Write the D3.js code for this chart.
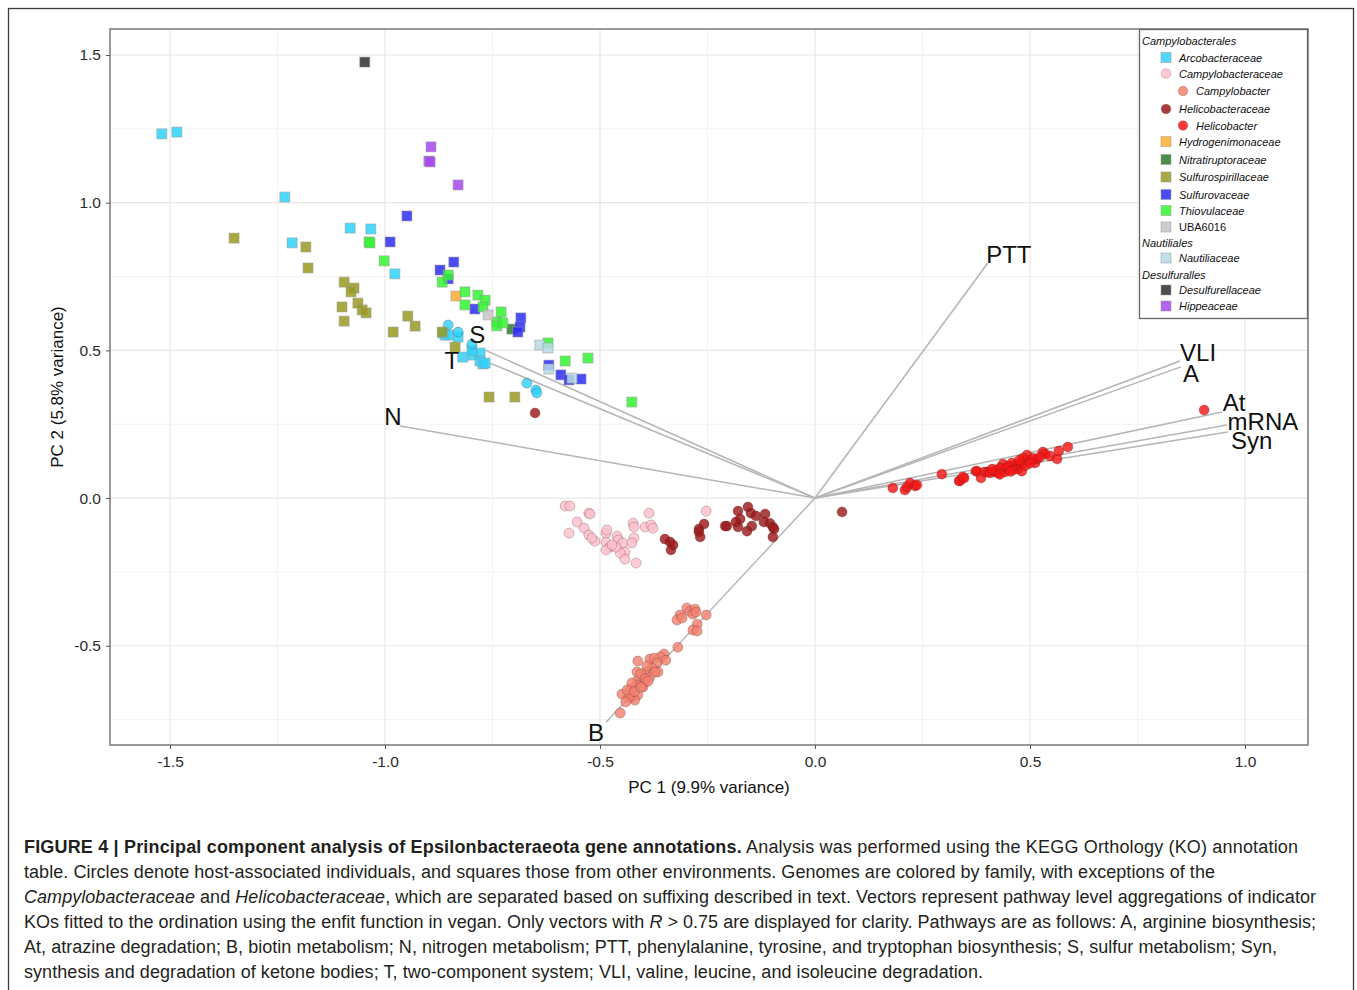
<!DOCTYPE html>
<html>
<head>
<meta charset="utf-8">
<script src="https://cdn.jsdelivr.net/npm/d3@7/dist/d3.min.js"></script>
<style>
  body { margin: 0; background: #fff; }
  svg text { font-family: "Liberation Sans", Arial, Helvetica, sans-serif; }
</style>
</head>
<body>
<div id="chart"></div>
<script>

//--------------------------------------
// DATA  (pc1, pc2, host-associated flag: 1 = circle, 0 = square)
//--------------------------------------

const familyNames = ['Arcobacteraceae', 'Campylobacteraceae', 'Campylobacter', 'Helicobacteraceae',
  'Helicobacter', 'Hydrogenimonaceae', 'Nitratiruptoraceae', 'Sulfurospirillaceae',
  'Sulfurovaceae', 'Thiovulaceae', 'UBA6016', 'Nautiliaceae', 'Desulfurellaceae', 'Hippeaceae'];

const arcobacteraceae = [
  [-1.519, 1.233, 0], [-1.484, 1.239, 0], [-1.233, 1.019, 0], [-1.216, 0.864, 0], [-1.081, 0.914, 0],
  [-1.033, 0.911, 0], [-0.977, 0.759, 0], [-0.865, 0.559, 0], [-0.860, 0.552, 0], [-0.853, 0.552, 0],
  [-0.830, 0.545, 0], [-0.819, 0.477, 0], [-0.795, 0.484, 0], [-0.779, 0.491, 0], [-0.779, 0.464, 0],
  [-0.772, 0.454, 0], [-0.767, 0.457, 0], [-0.798, 0.499, 0],
  [-0.853, 0.586, 1], [-0.830, 0.562, 1], [-0.798, 0.521, 1], [-0.670, 0.389, 1], [-0.649, 0.366, 1],
  [-0.647, 0.356, 1]
];

const campylobacteraceae = [
  [-0.581, -0.027, 1], [-0.570, -0.027, 1], [-0.526, -0.051, 1], [-0.523, -0.054, 1], [-0.553, -0.081, 1],
  [-0.572, -0.119, 1], [-0.537, -0.102, 1], [-0.526, -0.125, 1], [-0.512, -0.146, 1], [-0.519, -0.135, 1],
  [-0.486, -0.119, 1], [-0.484, -0.108, 1], [-0.486, -0.149, 1], [-0.477, -0.166, 1], [-0.486, -0.176, 1],
  [-0.460, -0.129, 1], [-0.458, -0.142, 1], [-0.447, -0.152, 1], [-0.442, -0.183, 1], [-0.453, -0.186, 1],
  [-0.442, -0.207, 1], [-0.423, -0.085, 1], [-0.421, -0.098, 1], [-0.421, -0.135, 1], [-0.426, -0.152, 1],
  [-0.416, -0.220, 1], [-0.386, -0.051, 1], [-0.395, -0.098, 1], [-0.381, -0.091, 1], [-0.377, -0.102, 1],
  [-0.253, -0.044, 1], [-0.463, -0.166, 1], [-0.472, -0.159, 1]
];

const campylobacter = [
  [-0.298, -0.372, 1], [-0.291, -0.383, 1], [-0.279, -0.376, 1], [-0.284, -0.393, 1], [-0.314, -0.396, 1],
  [-0.321, -0.413, 1], [-0.309, -0.406, 1], [-0.277, -0.386, 1], [-0.253, -0.396, 1], [-0.274, -0.427, 1],
  [-0.284, -0.447, 1], [-0.274, -0.450, 1], [-0.319, -0.505, 1], [-0.351, -0.528, 1], [-0.360, -0.538, 1],
  [-0.412, -0.552, 1], [-0.384, -0.545, 1], [-0.374, -0.542, 1], [-0.347, -0.549, 1], [-0.367, -0.559, 1],
  [-0.379, -0.576, 1], [-0.365, -0.589, 1], [-0.391, -0.589, 1], [-0.402, -0.606, 1], [-0.384, -0.606, 1],
  [-0.412, -0.616, 1], [-0.395, -0.623, 1], [-0.414, -0.633, 1], [-0.400, -0.640, 1], [-0.423, -0.643, 1],
  [-0.430, -0.650, 1], [-0.449, -0.664, 1], [-0.426, -0.674, 1], [-0.412, -0.667, 1], [-0.419, -0.684, 1],
  [-0.433, -0.674, 1], [-0.453, -0.728, 1], [-0.391, -0.569, 1], [-0.372, -0.589, 1], [-0.414, -0.589, 1],
  [-0.426, -0.626, 1], [-0.437, -0.650, 1], [-0.405, -0.595, 1], [-0.395, -0.612, 1], [-0.420, -0.655, 1],
  [-0.388, -0.620, 1], [-0.405, -0.640, 1], [-0.440, -0.690, 1]
];

const helicobacteraceae = [
  [-0.349, -0.139, 1], [-0.337, -0.149, 1], [-0.330, -0.159, 1], [-0.335, -0.176, 1], [-0.270, -0.105, 1],
  [-0.270, -0.115, 1], [-0.267, -0.132, 1], [-0.258, -0.088, 1], [-0.209, -0.095, 1], [-0.205, -0.095, 1],
  [-0.179, -0.044, 1], [-0.174, -0.071, 1], [-0.184, -0.081, 1], [-0.179, -0.098, 1], [-0.158, -0.112, 1],
  [-0.147, -0.095, 1], [-0.156, -0.030, 1], [-0.149, -0.051, 1], [-0.137, -0.061, 1], [-0.116, -0.054, 1],
  [-0.119, -0.081, 1], [-0.105, -0.085, 1], [-0.098, -0.098, 1], [-0.095, -0.105, 1], [-0.098, -0.132, 1],
  [0.063, -0.047, 1], [-0.651, 0.288, 1]
];

const helicobacter = [
  [0.181, 0.034, 1], [0.209, 0.027, 1], [0.214, 0.037, 1], [0.221, 0.051, 1], [0.233, 0.041, 1],
  [0.237, 0.044, 1], [0.295, 0.081, 1], [0.335, 0.058, 1], [0.347, 0.068, 1], [0.374, 0.091, 1],
  [0.386, 0.068, 1], [0.337, 0.058, 1], [0.344, 0.071, 1], [0.377, 0.091, 1], [0.395, 0.088, 1],
  [0.402, 0.088, 1], [0.407, 0.085, 1], [0.419, 0.088, 1], [0.426, 0.085, 1], [0.423, 0.095, 1],
  [0.437, 0.115, 1], [0.444, 0.102, 1], [0.453, 0.102, 1], [0.465, 0.112, 1], [0.470, 0.108, 1],
  [0.477, 0.119, 1], [0.488, 0.122, 1], [0.493, 0.146, 1], [0.500, 0.129, 1], [0.512, 0.119, 1],
  [0.516, 0.132, 1], [0.507, 0.135, 1], [0.530, 0.156, 1], [0.535, 0.149, 1], [0.547, 0.142, 1],
  [0.563, 0.132, 1], [0.567, 0.159, 1], [0.588, 0.173, 1], [0.442, 0.088, 1], [0.430, 0.102, 1],
  [0.458, 0.119, 1], [0.484, 0.135, 1], [0.412, 0.098, 1], [0.449, 0.108, 1], [0.472, 0.098, 1],
  [0.523, 0.139, 1], [0.481, 0.091, 1], [0.460, 0.095, 1], [0.490, 0.110, 1], [0.500, 0.118, 1],
  [0.475, 0.128, 1], [0.455, 0.090, 1], [0.430, 0.080, 1], [0.905, 0.298, 1]
];

const hydrogenimonaceae = [[-0.835, 0.684, 0]];

const nitratiruptoraceae = [[-0.705, 0.572, 0]];

const sulfurospirillaceae = [
  [-1.351, 0.880, 0], [-1.184, 0.850, 0], [-1.179, 0.779, 0], [-1.095, 0.731, 0], [-1.072, 0.711, 0],
  [-1.079, 0.698, 0], [-1.100, 0.647, 0], [-1.063, 0.660, 0], [-1.053, 0.637, 0], [-1.044, 0.627, 0],
  [-1.095, 0.599, 0], [-0.947, 0.616, 0], [-0.930, 0.582, 0], [-0.981, 0.562, 0], [-0.867, 0.562, 0],
  [-0.837, 0.511, 0], [-0.758, 0.342, 0], [-0.698, 0.342, 0]
];

const sulfurovaceae = [
  [-0.949, 0.955, 0], [-0.988, 0.867, 0], [-0.840, 0.799, 0], [-0.872, 0.772, 0], [-0.853, 0.742, 0],
  [-0.791, 0.640, 0], [-0.684, 0.610, 0], [-0.686, 0.579, 0], [-0.691, 0.562, 0], [-0.591, 0.417, 0],
  [-0.572, 0.400, 0], [-0.544, 0.403, 0], [-0.619, 0.450, 0]
];

const thiovulaceae = [
  [-1.037, 0.867, 0], [-1.035, 0.864, 0], [-1.002, 0.803, 0], [-0.867, 0.731, 0], [-0.853, 0.755, 0],
  [-0.814, 0.698, 0], [-0.814, 0.654, 0], [-0.784, 0.687, 0], [-0.767, 0.670, 0], [-0.772, 0.647, 0],
  [-0.730, 0.630, 0], [-0.740, 0.596, 0], [-0.740, 0.583, 0], [-0.726, 0.593, 0], [-0.621, 0.525, 0],
  [-0.581, 0.464, 0], [-0.528, 0.474, 0], [-0.426, 0.325, 0]
];

const uba6016 = [[-0.760, 0.620, 0]];

const nautiliaceae = [[-0.640, 0.518, 0], [-0.621, 0.508, 0], [-0.619, 0.437, 0], [-0.565, 0.406, 0]];

const desulfurellaceae = [[-1.047, 1.476, 0]];

const hippeaceae = [[-0.893, 1.189, 0], [-0.898, 1.141, 0], [-0.895, 1.138, 0], [-0.830, 1.060, 0]];

// fitted pathway vectors
const vectorNames = ['PTT', 'VLI', 'A', 'At', 'mRNA', 'Syn', 'B', 'N', 'S', 'T'];
const vectorPC1 = [0.402, 0.849, 0.851, 0.947, 0.958, 0.960, -0.486, -0.965, -0.767, -0.756];
const vectorPC2 = [0.796, 0.464, 0.444, 0.291, 0.247, 0.224, -0.759, 0.244, 0.501, 0.457];

const xMajorTicks = [-1.5, -1.0, -0.5, 0.0, 0.5, 1.0];
const yMajorTicks = [-0.5, 0.0, 0.5, 1.0, 1.5];
const xMinorTicks = [-1.25, -0.75, -0.25, 0.25, 0.75];
const yMinorTicks = [-0.75, -0.25, 0.25, 0.75, 1.25];


//--------------------------------------
// STYLE
//--------------------------------------

const familyPoints = [arcobacteraceae, campylobacteraceae, campylobacter, helicobacteraceae, helicobacter,
  hydrogenimonaceae, nitratiruptoraceae, sulfurospirillaceae, sulfurovaceae, thiovulaceae, uba6016,
  nautiliaceae, desulfurellaceae, hippeaceae];

const familyColours = ['#2fd2fb', '#ffc0cb', '#f3816f', '#9c1a1a', '#f51616', '#ffad2e', '#2b7a2b',
  '#999a22', '#2d2df5', '#33f533', '#c6c6c6', '#b7dbe6', '#2f2f2f', '#a648f0'];

// label offsets in px from the vector tip
const labelOffsets = {
  PTT: [21, -8], VLI: [18, -9], A: [10, 7], At: [12, -10], mRNA: [36, -4], Syn: [24, 9],
  B: [-10, 10], N: [-7, -9], S: [-8, -16], T: [-38, -3]
};

const fontFamily = '"Liberation Sans", Arial, Helvetica, sans-serif';


//--------------------------------------
// SVG
//--------------------------------------

const svg = d3.select('#chart').append('svg')
  .attr('width', 1357)
  .attr('height', 990);

svg.append('rect')
  .attr('x', 8.5).attr('y', 8.5)
  .attr('width', 1345).attr('height', 1000)
  .attr('fill', '#fff')
  .attr('stroke', '#3a3a3a')
  .attr('stroke-width', 1.3);

const panel = { left: 110, right: 1308, top: 29, bottom: 745 };

const x = d3.scaleLinear().domain([-1.6395, 1.1465]).range([panel.left, panel.right]);
const y = d3.scaleLinear().domain([-0.836, 1.588]).range([panel.bottom, panel.top]);


// grid
const grid = svg.append('g');

grid.selectAll('.vminor').data(xMinorTicks).enter().append('line')
  .attr('x1', d => x(d)).attr('x2', d => x(d))
  .attr('y1', panel.top).attr('y2', panel.bottom)
  .attr('stroke', '#f2f2f2').attr('stroke-width', 1);

grid.selectAll('.hminor').data(yMinorTicks).enter().append('line')
  .attr('y1', d => y(d)).attr('y2', d => y(d))
  .attr('x1', panel.left).attr('x2', panel.right)
  .attr('stroke', '#f2f2f2').attr('stroke-width', 1);

grid.selectAll('.vmajor').data(xMajorTicks).enter().append('line')
  .attr('x1', d => x(d)).attr('x2', d => x(d))
  .attr('y1', panel.top).attr('y2', panel.bottom)
  .attr('stroke', '#e8e8e8').attr('stroke-width', 1.2);

grid.selectAll('.hmajor').data(yMajorTicks).enter().append('line')
  .attr('y1', d => y(d)).attr('y2', d => y(d))
  .attr('x1', panel.left).attr('x2', panel.right)
  .attr('stroke', '#e8e8e8').attr('stroke-width', 1.2);


// vectors, under the points
const vectors = vectorNames.map((n, i) => ({ name: n, pc1: vectorPC1[i], pc2: vectorPC2[i] }));

svg.append('g').selectAll('line')
  .data(vectors)
  .enter()
  .append('line')
  .attr('x1', x(0)).attr('y1', y(0))
  .attr('x2', d => x(d.pc1)).attr('y2', d => y(d.pc2))
  .attr('stroke', '#b5b5b5')
  .attr('stroke-width', 1.5);


// points
const pointsLayer = svg.append('g');

familyPoints.forEach(function (pts, fi) {

  let g = pointsLayer.append('g');

  g.selectAll('rect')
    .data(pts.filter(p => p[2] === 0))
    .enter()
    .append('rect')
    .attr('x', d => x(d[0]) - 5)
    .attr('y', d => y(d[1]) - 5)
    .attr('width', 10).attr('height', 10)
    .attr('fill', familyColours[fi])
    .attr('fill-opacity', 0.85)
    .attr('stroke', '#9a9a9a')
    .attr('stroke-opacity', 0.5)
    .attr('stroke-width', 1);

  g.selectAll('circle')
    .data(pts.filter(p => p[2] === 1))
    .enter()
    .append('circle')
    .attr('cx', d => x(d[0]))
    .attr('cy', d => y(d[1]))
    .attr('r', 5)
    .attr('fill', familyColours[fi])
    .attr('fill-opacity', 0.82)
    .attr('stroke', '#3a1a1a')
    .attr('stroke-opacity', 0.35)
    .attr('stroke-width', 0.7);

});


// vector labels
svg.append('g').selectAll('text')
  .data(vectors)
  .enter()
  .append('text')
  .attr('x', d => x(d.pc1) + labelOffsets[d.name][0])
  .attr('y', d => y(d.pc2) + labelOffsets[d.name][1])
  .attr('text-anchor', 'middle')
  .attr('dominant-baseline', 'central')
  .attr('font-size', 24)
  .attr('fill', '#111')
  .text(d => d.name);


// panel border
svg.append('rect')
  .attr('x', panel.left).attr('y', panel.top)
  .attr('width', panel.right - panel.left)
  .attr('height', panel.bottom - panel.top)
  .attr('fill', 'none')
  .attr('stroke', '#808080')
  .attr('stroke-width', 1.6);


// axes
const fmt = d => d.toFixed(1);

const xAxis = svg.append('g')
  .attr('transform', 'translate(0,' + panel.bottom + ')')
  .call(d3.axisBottom(x).tickValues(xMajorTicks).tickFormat(fmt).tickSize(4).tickPadding(7));

const yAxis = svg.append('g')
  .attr('transform', 'translate(' + panel.left + ',0)')
  .call(d3.axisLeft(y).tickValues(yMajorTicks).tickFormat(fmt).tickSize(4).tickPadding(5));

[xAxis, yAxis].forEach(function (a) {
  a.select('.domain').remove();
  a.selectAll('line').attr('stroke', '#555');
  a.selectAll('text')
    .attr('font-family', fontFamily)
    .attr('font-size', 15.5)
    .attr('fill', '#2a2a2a');
});

svg.append('text')
  .attr('x', (panel.left + panel.right) / 2)
  .attr('y', 793)
  .attr('text-anchor', 'middle')
  .attr('font-size', 17)
  .attr('fill', '#111')
  .text('PC 1 (9.9% variance)');

svg.append('text')
  .attr('transform', 'translate(63,' + ((panel.top + panel.bottom) / 2) + ') rotate(-90)')
  .attr('text-anchor', 'middle')
  .attr('font-size', 17)
  .attr('fill', '#111')
  .text('PC 2 (5.8% variance)');


//--------------------------------------
// LEGEND
//--------------------------------------

const legendRows = [
  { label: 'Campylobacterales', header: true },
  { fam: 0 }, { fam: 1 }, { fam: 2, indent: true }, { fam: 3 }, { fam: 4, indent: true },
  { fam: 5 }, { fam: 6 }, { fam: 7 }, { fam: 8 }, { fam: 9 }, { fam: 10, plain: true },
  { label: 'Nautiliales', header: true },
  { fam: 11 },
  { label: 'Desulfuralles', header: true },
  { fam: 12 }, { fam: 13 }
];
const legendY = [40.5, 57.5, 73.5, 91, 109, 125.5, 141.5, 159.5, 177, 194.5, 210.5, 227, 242.5, 258, 274.5, 290, 306];
const circleFams = [1, 2, 3, 4];

const legend = svg.append('g');

legend.append('rect')
  .attr('x', 1139.5).attr('y', 29.5)
  .attr('width', 168).attr('height', 289)
  .attr('fill', '#fff')
  .attr('stroke', '#666')
  .attr('stroke-width', 1.3);

legendRows.forEach(function (row, i) {

  let cy = legendY[i];

  if (row.header) {
    legend.append('text')
      .attr('x', 1142).attr('y', cy)
      .attr('dominant-baseline', 'central')
      .attr('font-size', 11)
      .attr('font-style', 'italic')
      .attr('fill', '#111')
      .text(row.label);
    return;
  }

  let sx = row.indent ? 1183 : 1166;
  let col = familyColours[row.fam];

  if (circleFams.indexOf(row.fam) >= 0) {
    legend.append('circle')
      .attr('cx', sx).attr('cy', cy).attr('r', 4.8)
      .attr('fill', col).attr('fill-opacity', 0.85)
      .attr('stroke', '#3a1a1a').attr('stroke-opacity', 0.3).attr('stroke-width', 0.7);
  } else {
    legend.append('rect')
      .attr('x', sx - 5).attr('y', cy - 5)
      .attr('width', 10).attr('height', 10)
      .attr('fill', col).attr('fill-opacity', 0.85)
      .attr('stroke', '#9a9a9a').attr('stroke-opacity', 0.5);
  }

  legend.append('text')
    .attr('x', sx + 13).attr('y', cy)
    .attr('dominant-baseline', 'central')
    .attr('font-size', 11)
    .attr('font-style', row.plain ? 'normal' : 'italic')
    .attr('fill', '#111')
    .text(familyNames[row.fam]);

});


//--------------------------------------
// CAPTION
//--------------------------------------

const captionLines = [
  [['FIGURE 4 | Principal component analysis of Epsilonbacteraeota gene annotations.', 'b'], [' Analysis was performed using the KEGG Orthology (KO) annotation', '']],
  [['table. Circles denote host-associated individuals, and squares those from other environments. Genomes are colored by family, with exceptions of the', '']],
  [['Campylobacteraceae', 'i'], [' and ', ''], ['Helicobacteraceae', 'i'], [', which are separated based on suffixing described in text. Vectors represent pathway level aggregations of indicator', '']],
  [['KOs fitted to the ordination using the enfit function in vegan. Only vectors with ', ''], ['R', 'i'], [' > 0.75 are displayed for clarity. Pathways are as follows: A, arginine biosynthesis;', '']],
  [['At, atrazine degradation; B, biotin metabolism; N, nitrogen metabolism; PTT, phenylalanine, tyrosine, and tryptophan biosynthesis; S, sulfur metabolism; Syn,', '']],
  [['synthesis and degradation of ketone bodies; T, two-component system; VLI, valine, leucine, and isoleucine degradation.', '']]
];
const captionEnds = [1298, 1215, 1316, 1316, 1277, 983];

captionLines.forEach(function (segs, i) {

  let t = svg.append('text')
    .attr('x', 24)
    .attr('y', 853 + i * 25)
    .attr('font-size', 18)
    .attr('fill', '#231f20');

  segs.forEach(function (s) {
    t.append('tspan')
      .attr('font-weight', s[1] === 'b' ? 'bold' : 'normal')
      .attr('font-style', s[1] === 'i' ? 'italic' : 'normal')
      .text(s[0]);
  });

  // stretch or squeeze the spacing so the line ends where the original one does
  let w = t.node().getComputedTextLength();
  let n = segs.reduce((a, s) => a + s[0].length, 0);
  t.style('letter-spacing', ((captionEnds[i] - 24 - w) / (n - 1)) + 'px');

});

</script>
</body>
</html>
